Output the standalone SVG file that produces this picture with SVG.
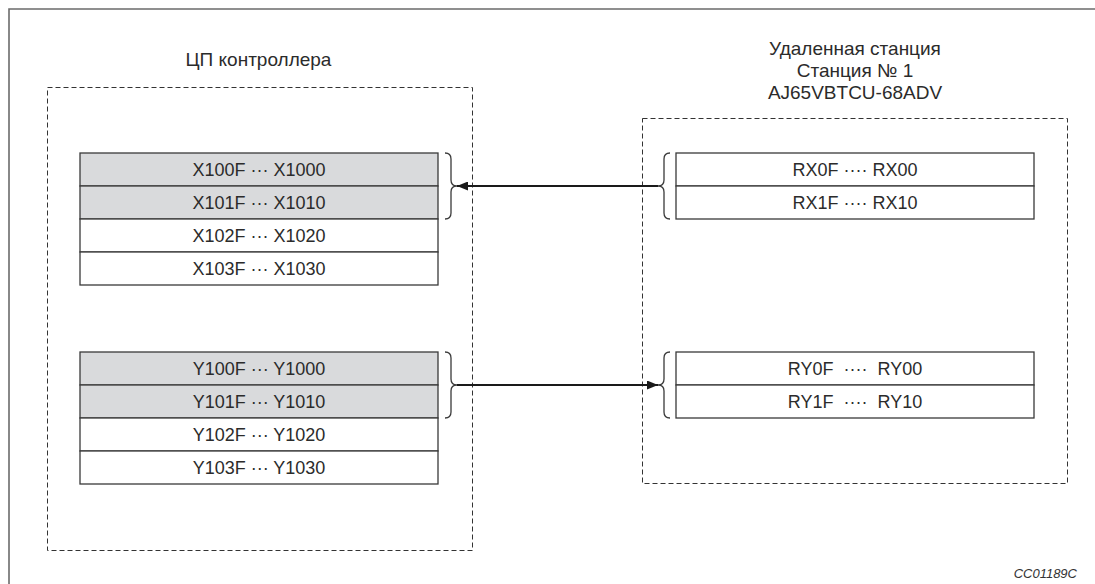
<svg xmlns="http://www.w3.org/2000/svg" width="1095" height="584" viewBox="0 0 1095 584">
<defs>
<style>
.frame{fill:none;stroke:#6b6b6b;stroke-width:1.6}
.dash{fill:none;stroke:#333;stroke-width:1;stroke-dasharray:5,3}
.cell{stroke:#3a3a3a;stroke-width:1.3}
.sh{fill:#d9dadc}
.wh{fill:#fff}
.ct{font-family:"Liberation Sans",Arial,sans-serif;font-size:18px;fill:#2b2b2b;text-anchor:middle;white-space:pre}
.hd{font-family:"Liberation Sans",Arial,sans-serif;font-size:19px;fill:#2b2b2b;text-anchor:middle}
.brace{fill:none;stroke:#3a3a3a;stroke-width:1.3}
.conn{fill:none;stroke:#1a1a1a;stroke-width:1.8}
.code{font-family:"Liberation Sans",Arial,sans-serif;font-size:13px;font-style:italic;fill:#333;text-anchor:end}
</style>
<marker id="ah" viewBox="0 0 11 9" refX="11" refY="4.5" markerWidth="11" markerHeight="9" markerUnits="userSpaceOnUse" orient="auto">
<path d="M0,0 L11,4.5 L0,9 Z" fill="#1a1a1a"/>
</marker>
</defs>
<rect width="1095" height="584" fill="#fff"/>
<path class="frame" d="M9,584 V9 H1095"/>

<g id="cpu">
<text class="hd" x="258.5" y="66">ЦП контроллера</text>
<rect class="dash" x="47.5" y="87.5" width="425" height="463"/>
</g>

<g id="cpu-x">
<rect class="cell sh" x="80" y="153" width="358" height="33"/>
<rect class="cell sh" x="80" y="186" width="358" height="33"/>
<rect class="cell wh" x="80" y="219" width="358" height="33"/>
<rect class="cell wh" x="80" y="252" width="358" height="33"/>
<text class="ct" x="259" y="176">X100F ··· X1000</text>
<text class="ct" x="259" y="209">X101F ··· X1010</text>
<text class="ct" x="259" y="242">X102F ··· X1020</text>
<text class="ct" x="259" y="275">X103F ··· X1030</text>
</g>

<g id="cpu-y">
<rect class="cell sh" x="80" y="352" width="358" height="33"/>
<rect class="cell sh" x="80" y="385" width="358" height="33"/>
<rect class="cell wh" x="80" y="418" width="358" height="33"/>
<rect class="cell wh" x="80" y="451" width="358" height="33"/>
<text class="ct" x="259" y="375">Y100F ··· Y1000</text>
<text class="ct" x="259" y="408">Y101F ··· Y1010</text>
<text class="ct" x="259" y="441">Y102F ··· Y1020</text>
<text class="ct" x="259" y="474">Y103F ··· Y1030</text>
</g>

<g id="remote">
<text class="hd" x="855" y="55">Удаленная станция</text>
<text class="hd" x="855" y="77">Станция № 1</text>
<text class="hd" x="855" y="99">AJ65VBTCU-68ADV</text>
<rect class="dash" x="642.5" y="118.5" width="425" height="365"/>
</g>

<g id="remote-rx">
<rect class="cell wh" x="676" y="153" width="358" height="33"/>
<rect class="cell wh" x="676" y="186" width="358" height="33"/>
<text class="ct" x="855" y="176">RX0F ···· RX00</text>
<text class="ct" x="855" y="209">RX1F ···· RX10</text>
</g>

<g id="remote-ry">
<rect class="cell wh" x="676" y="352" width="358" height="33"/>
<rect class="cell wh" x="676" y="385" width="358" height="33"/>
<text class="ct" x="855" y="375">RY0F  ····  RY00</text>
<text class="ct" x="855" y="408">RY1F  ····  RY10</text>
</g>

<g id="braces">
<path class="brace" d="M445,153 Q451,153 451,159 L451,180 Q451,186 457,186 Q451,186 451,192 L451,213 Q451,219 445,219"/>
<path class="brace" d="M445,352 Q451,352 451,358 L451,379 Q451,385 457,385 Q451,385 451,391 L451,412 Q451,418 445,418"/>
<path class="brace" d="M670,153 Q664,153 664,159 L664,180 Q664,186 658,186 Q664,186 664,192 L664,213 Q664,219 670,219"/>
<path class="brace" d="M670,352 Q664,352 664,358 L664,379 Q664,385 658,385 Q664,385 664,391 L664,412 Q664,418 670,418"/>
</g>

<g id="connectors">
<path class="conn" d="M658,186 H457" marker-end="url(#ah)"/>
<path class="conn" d="M457,385 H658" marker-end="url(#ah)"/>
</g>

<text class="code" x="1077" y="578">CC01189C</text>
</svg>
